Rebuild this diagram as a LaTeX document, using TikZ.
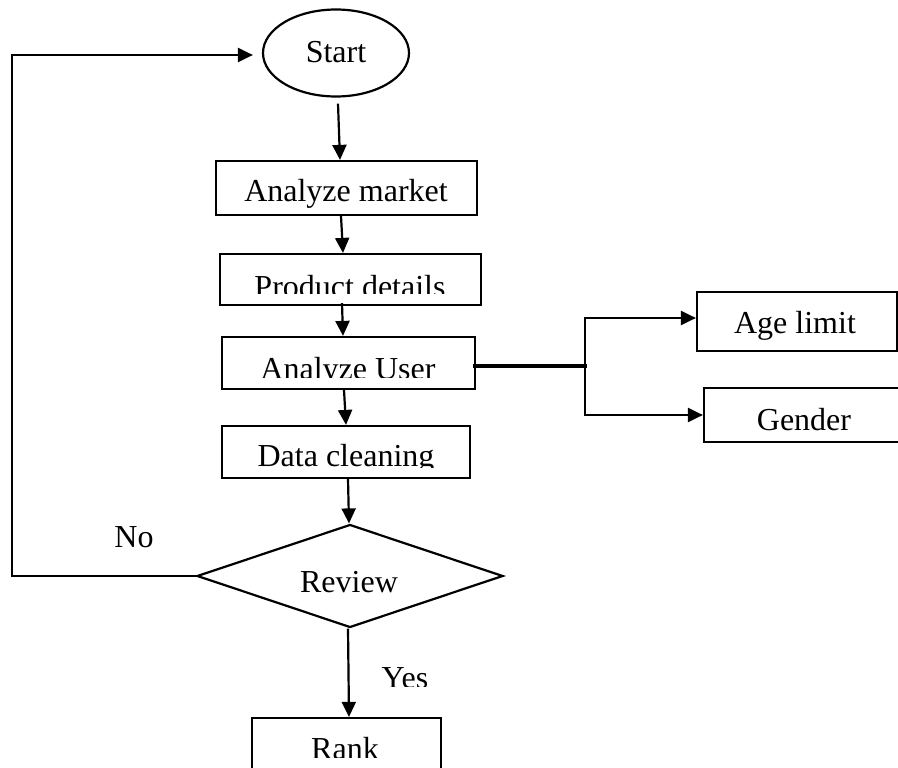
\documentclass[tikz,border=0pt]{standalone}
\usepackage{fontspec}
\setmainfont{Liberation Serif}
\usetikzlibrary{arrows.meta,shapes.geometric}

\begin{document}
\begin{tikzpicture}[x=1pt,y=-1pt,
  line width=2.2pt,
  box/.style={draw, rectangle, inner sep=0pt, line width=2.2pt},
  lbl/.style={font=\fontsize{32}{38}\selectfont, anchor=base, inner sep=0pt},
  arr/.style={-{Triangle[length=15pt,width=14pt]}, line width=2.2pt},
]
\useasboundingbox (0,0) rectangle (898,768);
\clip (0,0) rectangle (898,768);

% shapes of the flow
\node[draw, ellipse, inner sep=0pt, minimum width=146pt, minimum height=87pt] (start) at (336,53) {};
\node[box, minimum width=261pt, minimum height=54pt] (am) at (346.5,188) {};
\node[box, minimum width=261pt, minimum height=51pt] (pd) at (350.5,279.5) {};
\node[box, minimum width=253pt, minimum height=52pt] (au) at (348.5,363) {};
\node[box, minimum width=248pt, minimum height=52pt] (dc) at (346,452) {};
\node[draw, diamond, inner sep=0pt, minimum width=306pt, minimum height=103pt] (review) at (350,576) {};
\node[box, minimum width=200pt, minimum height=59pt] (age) at (797,321.5) {};
\node[box, minimum width=206pt, minimum height=54pt] (gender) at (807,415) {};
\node[box, minimum width=189pt, minimum height=72pt] (rank) at (346.5,754) {};

% texts (some are cut off at the bottom by their frames)
\node[lbl] (tstart) at (336,63) {Start};
\node[lbl] (tam) at (346,201) {Analyze market};
\begin{scope}
  \clip (220,254) rectangle (481,293);
  \node[lbl] (tpd) at (350,297) {Product details};
\end{scope}
\begin{scope}
  \clip (222,337) rectangle (475,377);
  \node[lbl] (tau) at (348,379) {Analyze User};
\end{scope}
\begin{scope}
  \clip (222,426) rectangle (470,467);
  \node[lbl] (tdc) at (346,466) {Data cleaning};
\end{scope}
\node[lbl] (tage) at (795,333) {Age limit};
\node[lbl] (tgender) at (804,430) {Gender};
\node[lbl] (treview) at (349,592) {Review};
\node[lbl] (tno) at (134,547) {No};
\begin{scope}
  \clip (370,640) rectangle (450,686);
  \node[lbl] (tyes) at (405,688) {Yes};
\end{scope}
\begin{scope}
  \clip (253,720) rectangle (440,757);
  \node[lbl] (trank) at (345,759) {Rank};
\end{scope}

% main connectors
\draw[arr] ([xshift=2pt,yshift=-6pt]start.south) -- ([xshift=-6.5pt]am.north);
\draw[arr] ([xshift=-5.5pt]am.south) -- ([xshift=-7.5pt]pd.north);
\draw[arr] ([xshift=-8.5pt,yshift=3pt]pd.south) -- ([xshift=-5.5pt]au.north);
\draw[arr] ([xshift=-4.5pt]au.south) -- (dc.north);
\draw[arr] ([xshift=2pt]dc.south) -- ([xshift=-1pt]review.north);
\draw[arr] ([xshift=-2pt]review.south) -- ([xshift=2.5pt]rank.north);

% fork to the user attributes
\coordinate (fork) at (585,366);
\draw[line width=3.8pt] ([xshift=-3pt,yshift=-3pt]au.east) -- ([xshift=1.5pt]fork);
\draw[arr] (fork) |- ([yshift=3.5pt]age.west);
\draw[arr] (fork) |- (gender.west);

% loop back on "No"
\coordinate (loopcorner) at (12,576);
\draw[arr, shorten >=9pt] (review.west) -- (loopcorner) |- ([yshift=-2pt]start.west);
\end{tikzpicture}
\end{document}
